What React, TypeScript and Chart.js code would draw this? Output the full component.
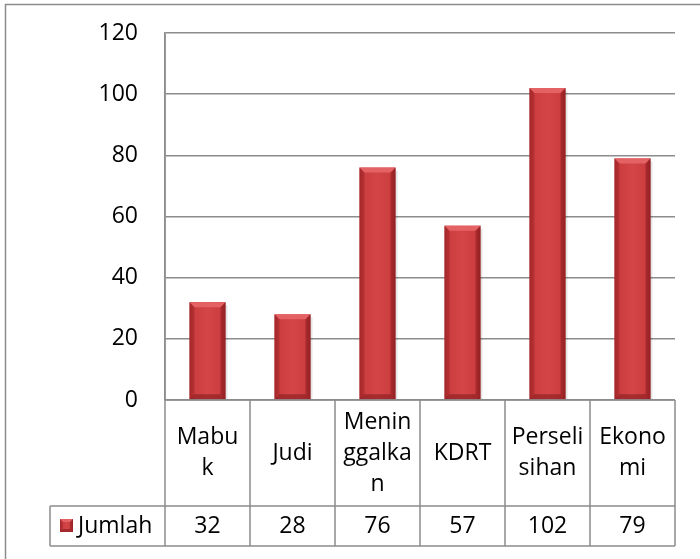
import React, { useEffect, useRef } from "react";
import { Chart, registerables } from "chart.js";

Chart.register(...registerables);

const categories: string[][] = [
  ["Mabu", "k"],
  ["Judi"],
  ["Menin", "ggalka", "n"],
  ["KDRT"],
  ["Perseli", "sihan"],
  ["Ekono", "mi"],
];
const seriesName = "Jumlah";
const values = [32, 28, 76, 57, 102, 79];
const yTicks = [0, 20, 40, 60, 80, 100, 120];

const FONT = "'Open Sans', sans-serif";
const FONT_SIZE = 23;
const GRID = "#8c8c8c";

function drawBevelRect(ctx: CanvasRenderingContext2D, x0: number, y0: number, x1: number, y1: number, bev: number) {
  const w = x1 - x0;
  const h = y1 - y0;
  const g = ctx.createLinearGradient(x0, 0, x1, 0);
  g.addColorStop(0, "#b02e32");
  g.addColorStop(0.12, "#cc3d40");
  g.addColorStop(0.5, "#d44547");
  g.addColorStop(0.88, "#cc3d40");
  g.addColorStop(1, "#a82a2e");
  ctx.fillStyle = g;
  ctx.fillRect(x0, y0, w, h);
  const b = Math.min(bev, h / 2, w / 2);
  ctx.beginPath();
  ctx.moveTo(x0, y0);
  ctx.lineTo(x1, y0);
  ctx.lineTo(x1 - b, y0 + b);
  ctx.lineTo(x0 + b, y0 + b);
  ctx.closePath();
  ctx.fillStyle = "#e46264";
  ctx.fill();
  ctx.beginPath();
  ctx.moveTo(x0, y0);
  ctx.lineTo(x0 + b, y0 + b);
  ctx.lineTo(x0 + b, y1 - b);
  ctx.lineTo(x0, y1);
  ctx.closePath();
  ctx.fillStyle = "rgba(150,30,34,0.45)";
  ctx.fill();
  ctx.beginPath();
  ctx.moveTo(x1, y0);
  ctx.lineTo(x1 - b, y0 + b);
  ctx.lineTo(x1 - b, y1 - b);
  ctx.lineTo(x1, y1);
  ctx.closePath();
  ctx.fillStyle = "rgba(130,22,26,0.5)";
  ctx.fill();
  ctx.beginPath();
  ctx.moveTo(x0, y1);
  ctx.lineTo(x0 + b, y1 - b);
  ctx.lineTo(x1 - b, y1 - b);
  ctx.lineTo(x1, y1);
  ctx.closePath();
  ctx.fillStyle = "rgba(120,20,24,0.5)";
  ctx.fill();
}

const tablePlugin = {
  id: "excelTable",
  afterDatasetsDraw(chart: any) {
    const ctx: CanvasRenderingContext2D = chart.ctx;
    const meta = chart.getDatasetMeta(0);
    ctx.save();
    meta.data.forEach((bar: any) => {
      const { x, y, base, width } = bar.getProps(["x", "y", "base", "width"], true);
      ctx.fillStyle = "rgba(0,0,0,0.10)";
      ctx.fillRect(x + width / 2, y + 3, 2, base - y - 3);
      drawBevelRect(ctx, x - width / 2, y, x + width / 2, base, 5);
    });
    ctx.restore();
  },
  afterDraw(chart: any) {
    const ctx: CanvasRenderingContext2D = chart.ctx;
    const xs = chart.scales.x;
    const area = chart.chartArea;
    const n = categories.length;
    const colW = (area.right - area.left) / n;
    const top = area.bottom;
    const rowSplit = top + 106;
    const bottom = rowSplit + 40;
    const legendLeft = 50;
    ctx.save();
    ctx.strokeStyle = GRID;
    ctx.lineWidth = 1.5;
    ctx.strokeRect(5.5, 4.5, 720, 600);
    ctx.beginPath();
    ctx.moveTo(area.left, area.top);
    ctx.lineTo(area.left, bottom);
    ctx.stroke();
    ctx.beginPath();
    ctx.moveTo(area.left, top);
    ctx.lineTo(area.right, top);
    ctx.moveTo(legendLeft, rowSplit);
    ctx.lineTo(area.right, rowSplit);
    ctx.moveTo(legendLeft, bottom);
    ctx.lineTo(area.right, bottom);
    ctx.moveTo(legendLeft, rowSplit);
    ctx.lineTo(legendLeft, bottom);
    for (let i = 0; i < n; i++) {
      const cx = xs.getPixelForValue(i);
      const right = cx + colW / 2;
      ctx.moveTo(right, top);
      ctx.lineTo(right, bottom);
    }
    ctx.stroke();

    ctx.fillStyle = "#000";
    ctx.font = `${FONT_SIZE}px ${FONT}`;
    ctx.textAlign = "center";
    ctx.textBaseline = "middle";
    const lh = 31;
    categories.forEach((lines, i) => {
      const cx = xs.getPixelForValue(i);
      const mid = (top + rowSplit) / 2;
      const start = mid - ((lines.length - 1) * lh) / 2;
      lines.forEach((ln, j) => ctx.fillText(ln, cx, start + j * lh));
    });
    values.forEach((v, i) => {
      const cx = xs.getPixelForValue(i);
      ctx.fillText(String(v), cx, (rowSplit + bottom) / 2);
    });
    const my = (rowSplit + bottom) / 2;
    drawBevelRect(ctx, 60, my - 7, 73, my + 6, 3);
    ctx.textAlign = "left";
    ctx.fillStyle = "#000";
    ctx.fillText(seriesName, 78, my);
    ctx.restore();
  },
};

export default function App() {
  const ref = useRef<HTMLCanvasElement>(null);
  useEffect(() => {
    if (!ref.current) return;
    const chart = new Chart(ref.current, {
      type: "bar",
      data: {
        labels: categories.map((c) => c.join("")),
        datasets: [
          {
            label: seriesName,
            data: values,
            backgroundColor: "rgba(0,0,0,0)",
            borderWidth: 0,
            categoryPercentage: 1,
            barPercentage: 0.425,
          },
        ],
      },
      options: {
        animation: false,
        responsive: false,
        maintainAspectRatio: false,
        layout: { padding: { left: 0, right: 25, top: 33, bottom: 159 } },
        plugins: { legend: { display: false }, tooltip: { enabled: false } },
        scales: {
          x: { display: false },
          y: {
            min: 0,
            max: 120,
            afterFit: (s: any) => {
              s.width = 165;
              s.paddingTop = 0;
              s.paddingBottom = 0;
            },
            afterBuildTicks: (s: any) => {
              s.ticks = yTicks.map((v) => ({ value: v }));
            },
            ticks: {
              padding: 27,
              color: "#000",
              font: { family: FONT, size: FONT_SIZE },
            },
            grid: { color: GRID, lineWidth: 1.5, drawTicks: false },
            border: { display: true, color: GRID, width: 1.5 },
          },
        },
      },
      plugins: [tablePlugin],
    });
    return () => chart.destroy();
  }, []);
  return (
    <div style={{ position: "fixed", left: 0, top: 0, width: 700, height: 559, background: "#fff" }}>
      <canvas ref={ref} width={700} height={559} style={{ display: "block" }} />
    </div>
  );
}
